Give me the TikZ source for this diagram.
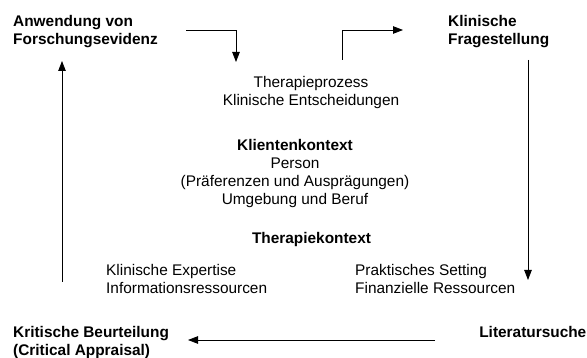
\documentclass[tikz,border=0pt]{standalone}
\usepackage{fontspec}
\setmainfont{Liberation Sans}
\usetikzlibrary{arrows.meta}
\begin{document}
\begin{tikzpicture}[x=1pt,y=-1pt,
  txt/.style={inner sep=0pt,font=\fontsize{15.4}{18}\selectfont},
  bold/.style={txt,font=\fontsize{15.4}{18}\selectfont\bfseries},
  conn/.style={line width=0.8pt,-{Triangle[length=10pt,width=7.5pt]}}]
\useasboundingbox (0,0) rectangle (587,358);
\node[bold,anchor=north west,align=left] (anw) at (13,15.5) {Anwendung von\\Forschungsevidenz};
\node[bold,anchor=north west,align=left] (fra) at (448,15) {Klinische\\Fragestellung};
\node[bold,anchor=north east] (lit) at (586.5,326) {Literatursuche};
\node[bold,anchor=north west,align=left] (kri) at (13,326) {Kritische Beurteilung\\(Critical Appraisal)};
\node[txt,anchor=north,align=center] (ther) at (311,76) {Therapieprozess\\Klinische Entscheidungen};
\node[txt,anchor=north,align=center] (kli) at (295,139) {\textbf{Klientenkontext}\\Person\\(Präferenzen und Ausprägungen)\\Umgebung und Beruf};
\node[bold,anchor=north] (tk) at (311.5,232) {Therapiekontext};
\node[txt,anchor=north west,align=left] (exp) at (106,264) {Klinische Expertise\\Informationsressourcen};
\node[txt,anchor=north west,align=left] (set) at (355,264) {Praktisches Setting\\Finanzielle Ressourcen};
\coordinate (a1s) at (186,30);
\coordinate (a1e) at (236,62);
\coordinate (a2s) at (342,60);
\coordinate (a2e) at (403,30);
\coordinate (a3s) at (528,60);
\coordinate (a3e) at (528,280);
\coordinate (a4s) at (435,340);
\coordinate (a4e) at (188,340);
\coordinate (a5s) at (62,282);
\coordinate (a5e) at (62,61);
\draw[conn] (a1s) -| (a1e);
\draw[conn] (a2s) |- (a2e);
\draw[conn] (a3s) -- (a3e);
\draw[conn] (a4s) -- (a4e);
\draw[conn] (a5s) -- (a5e);
\end{tikzpicture}
\end{document}
